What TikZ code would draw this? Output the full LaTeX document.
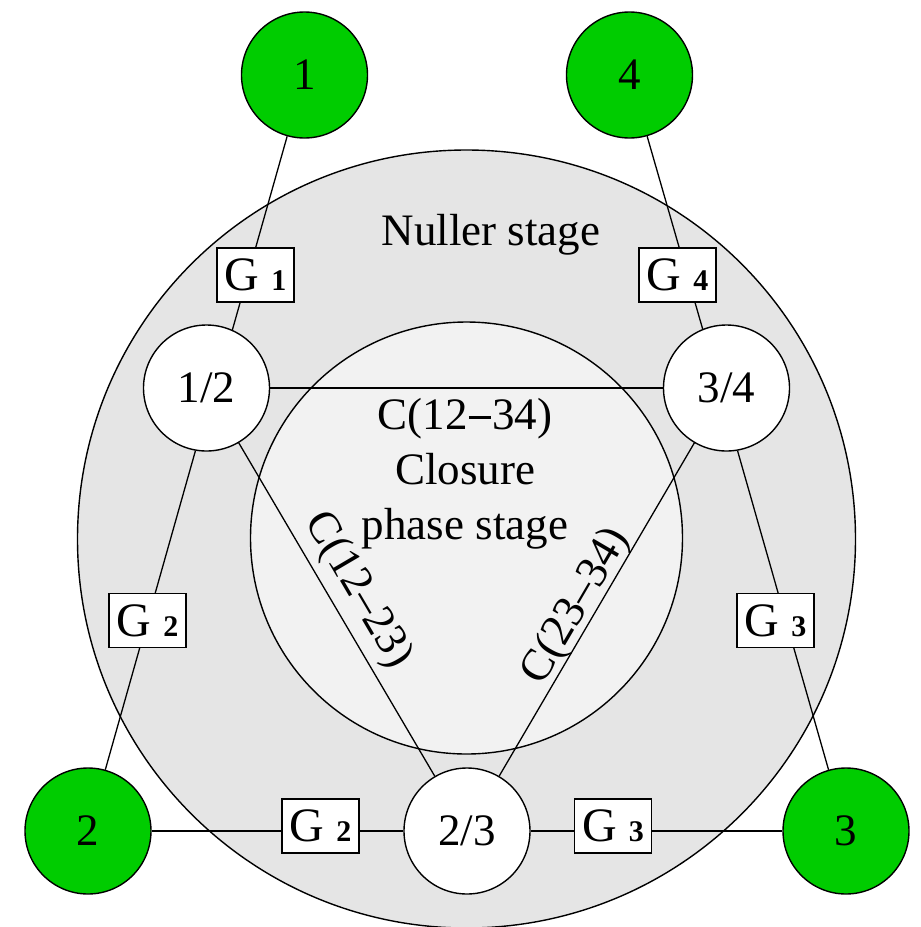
\documentclass[tikz,border=0pt]{standalone}
\usepackage{fontspec}
\setmainfont{Liberation Serif}
\pgfdeclarelayer{bg}
\pgfdeclarelayer{wires}
\pgfsetlayers{bg,wires,main}
\definecolor{nodegreen}{HTML}{00CC00}
\definecolor{outergray}{HTML}{E5E5E5}
\definecolor{innergray}{HTML}{F2F2F2}
\newcommand\gainsub[1]{{\fontsize{15}{15}\selectfont\bfseries #1}}
\newcommand\heavydash{\hspace{0.02em}\rule[0.24em]{0.5em}{1.6pt}\hspace{0.02em}}
\begin{document}
\begin{tikzpicture}[x=0.5pt,y=-0.5pt,
  lbl/.style={font=\fontsize{22.5}{27.5}\selectfont},
  termnode/.style={circle,draw,line width=0.7pt,fill=nodegreen,minimum size=63pt,inner sep=0pt,lbl},
  pairnode/.style={circle,draw,line width=0.7pt,fill=white,minimum size=63pt,inner sep=0pt,lbl},
  stagering/.style={circle,draw,line width=0.7pt,inner sep=0pt},
  gainbox/.style={draw,line width=0.7pt,fill=white,minimum width=38.5pt,minimum height=27pt,inner sep=0pt,font=\fontsize{24}{24}\selectfont},
  wire/.style={line width=0.65pt},
  slopelbl/.style={sloped,inner sep=0pt,lbl}
]
\useasboundingbox (0,0) rectangle (921,927);
\begin{pgfonlayer}{bg}
  \node[stagering,fill=outergray,minimum size=389pt] (nuller) at (466.5,539) {};
  \node[stagering,fill=innergray,minimum size=216pt] (closure) at (466.5,538) {};
\end{pgfonlayer}
\node[lbl] (nullertxt) at (491,235) {Nuller stage};
\node[lbl,align=center] (closuretxt) at (465,474) {C(12\heavydash34)\\Closure\\phase stage};

\node[termnode] (t1) at (304.5,75) {1};
\node[termnode] (t4) at (629.5,75) {4};
\node[termnode] (t2) at (88,831) {2};
\node[termnode] (t3) at (846,831) {3};

\node[pairnode] (w12) at (206.5,388) {1/2};
\node[pairnode] (w34) at (726.5,388) {3/4};
\node[pairnode] (w23) at (467,831) {2/3};

\node[gainbox] (gb1) at (255.5,275) {G \gainsub{1}};
\node[gainbox] (gb4) at (677.5,275) {G \gainsub{4}};
\node[gainbox] (gb2l) at (147.5,620.5) {G \gainsub{2}};
\node[gainbox] (gb3r) at (775.5,620.5) {G \gainsub{3}};
\node[gainbox] (gb2b) at (320.5,826) {G \gainsub{2}};
\node[gainbox] (gb3b) at (613,826) {G \gainsub{3}};

\begin{pgfonlayer}{wires}
  \draw[wire] (t1) -- (w12.66);
  \draw[wire] (t4) -- (w34.112);
  \draw[wire] (w12.260) -- (t2);
  \draw[wire] (w34.280) -- (t3);
  \draw[wire] (w12) -- (w34);
  \draw[wire] (w12) -- node[slopelbl,pos=0.485,above=3.5pt] (c1223) {C(12–23)} (w23);
  \draw[wire] (w23) -- node[slopelbl,pos=0.48,above=-1pt] (c2334) {C(23–34)} (w34);
  \draw[wire] (t2) -- (w23);
  \draw[wire] (w23) -- (t3);
\end{pgfonlayer}
\end{tikzpicture}
\end{document}
